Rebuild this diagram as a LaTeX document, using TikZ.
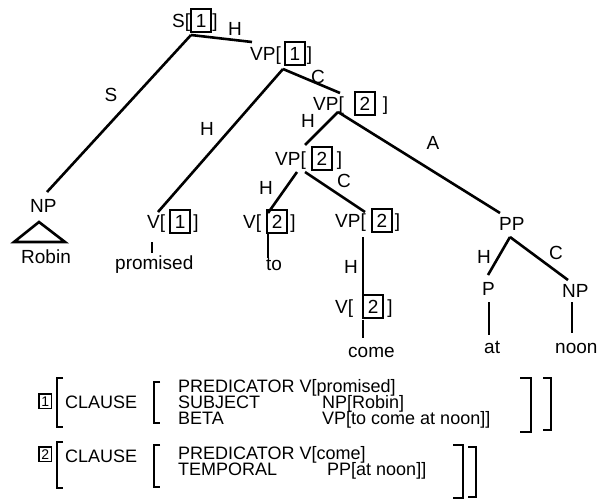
\documentclass[tikz,border=0pt]{standalone}
\usepackage{fontspec}
\setmainfont{Liberation Sans}
% boxed coindexing tags: large ones in the tree, small ones in the feature structures
\newcommand{\treetag}[1]{{\setlength{\fboxsep}{3.9pt}\setlength{\fboxrule}{1.9pt}\fbox{#1}}}
\newcommand{\avmtag}[1]{{\fontsize{14}{16}\selectfont\setlength{\fboxsep}{1.5pt}\setlength{\fboxrule}{1.7pt}\fbox{#1}}}

\begin{document}
\begin{tikzpicture}[x=1pt,y=-1pt,
  lbl/.style={anchor=base west, inner sep=0pt, font=\fontsize{19}{22}\selectfont},
  row/.style={anchor=base west, inner sep=0pt, font=\fontsize{18}{20}\selectfont},
  edgelbl/.style={inner sep=0pt, font=\fontsize{19}{22}\selectfont},
  branch/.style={line width=2.6pt},
  brk/.style={line width=2.3pt, line join=miter}]
\useasboundingbox[fill=white] (0,0) rectangle (599,501);

% ---- tree nodes ----
\node[lbl] (S)    at (172,27)  {S[\treetag{1}]};
\node[lbl] (VP1)  at (250,60)  {VP[\kern3pt\treetag{1}\kern1pt]};
\node[lbl] (VP2a) at (313,110) {VP[\kern10pt\treetag{2}\kern7pt]};
\node[lbl] (VP2b) at (275,165) {VP[\kern5pt\treetag{2}\kern4pt]};
\node[lbl] (NP)   at (30,212)  {NP};
\node[lbl] (V1)   at (147,228) {V[\kern4pt\treetag{1}\kern2pt]};
\node[lbl] (V2)   at (243,228) {V[\kern5pt\treetag{2}\kern2pt]};
\node[lbl] (VP2c) at (335,227) {VP[\kern5pt\treetag{2}\kern2pt]};
\node[lbl] (PP)   at (499,230) {PP};
\node[lbl] (V2c)  at (335,313) {V[\kern9pt\treetag{2}\kern3pt]};
\node[lbl] (P)    at (482,295) {P};
\node[lbl] (NPn)  at (562,297) {NP};

% ---- leaves ----
\node[lbl] (robin)    at (21,263)  {Robin};
\node[lbl] (promised) at (115,269) {promised};
\node[lbl] (to)       at (266,270) {to};
\node[lbl] (come)     at (348,357) {come};
\node[lbl] (at)       at (484,353) {at};
\node[lbl] (noon)     at (555,353) {noon};

% ---- branches ----
\draw[branch] ([shift={(19,8)}]S.base west) -- ([shift={(2,-18)}]VP1.base west);
\draw[branch] ([shift={(19,8)}]S.base west) -- ([shift={(17,-20)}]NP.base west);
\draw[branch] ([shift={(33,9)}]VP1.base west) -- ([shift={(11,-16)}]V1.base west);
\draw[branch] ([shift={(33,9)}]VP1.base west) -- ([shift={(27,-17)}]VP2a.base west);
\draw[branch] ([shift={(25,2)}]VP2a.base west) -- ([shift={(30,-20)}]VP2b.base west);
\draw[branch] ([shift={(25,2)}]VP2a.base west) -- ([shift={(1,-17)}]PP.base west);
\draw[branch] ([shift={(22,7)}]VP2b.base west) -- ([shift={(25,-15)}]V2.base west);
\draw[branch] ([shift={(30,7)}]VP2b.base west) -- ([shift={(30,-15)}]VP2c.base west);
\draw[branch] ([shift={(28,10)}]VP2c.base west) -- ([shift={(28,-16)}]V2c.base west);
\draw[branch] ([shift={(11,7)}]PP.base west) -- ([shift={(6,-20)}]P.base west);
\draw[branch] ([shift={(11,7)}]PP.base west) -- ([shift={(6,-17)}]NPn.base west);
% lexical attachments
\draw[branch] ([shift={(5,14)}]V1.base west) -- ([shift={(37,-16)}]promised.base west);
\draw[branch] ([shift={(25,5)}]V2.base west) -- ([shift={(2,-12)}]to.base west);
\draw[branch] ([shift={(28,7)}]V2c.base west) -- ([shift={(15,-19)}]come.base west);
\draw[branch] ([shift={(7,7)}]P.base west) -- ([shift={(5,-18)}]at.base west);
\draw[branch] ([shift={(10,5)}]NPn.base west) -- ([shift={(17,-20)}]noon.base west);
% triangle over the unanalysed NP
\draw[branch, line join=miter] ([shift={(9,10)}]NP.base west) -- ([shift={(-16,30)}]NP.base west)
  -- ([shift={(35,30)}]NP.base west) -- cycle;

% ---- branch labels ----
\node[edgelbl] (lH1) at (235,29)  {H};
\node[edgelbl] (lS)  at (111,95)  {S};
\node[edgelbl] (lH2) at (207,129) {H};
\node[edgelbl] (lC1) at (318,77)  {C};
\node[edgelbl] (lH3) at (308,121) {H};
\node[edgelbl] (lA)  at (433,143) {A};
\node[edgelbl] (lH4) at (266,188) {H};
\node[edgelbl] (lC2) at (344,181) {C};
\node[edgelbl] (lH5) at (351,267) {H};
\node[edgelbl] (lH6) at (484,257) {H};
\node[edgelbl] (lC3) at (556,253) {C};

% ---- feature structure 1 ----
\node[anchor=base west, inner sep=0pt] (tag1) at (38,406) {\avmtag{1}};
\node[row] (cl1)  at (65,408)  {CLAUSE};
\node[row] (k1a)  at (178,392) {PREDICATOR V[promised]};
\node[row] (k1b)  at (178,408) {SUBJECT};
\node[row] (k1c)  at (178,424) {BETA};
\node[row] (v1b)  at (322,408) {NP[Robin]};
\node[row] (v1c)  at (322,424) {VP[to come at noon]]};
\draw[brk] (63,378) -- (57,378) -- (57,427) -- (63,427);
\draw[brk] (160,382) -- (154,382) -- (154,423) -- (160,423);
\draw[brk] (520,378) -- (531,378) -- (531,432) -- (520,432);
\draw[brk] (543,378) -- (551,378) -- (551,430) -- (543,430);

% ---- feature structure 2 ----
\node[anchor=base west, inner sep=0pt] (tag2) at (38,459) {\avmtag{2}};
\node[row] (cl2)  at (65,462)  {CLAUSE};
\node[row] (k2a)  at (178,459) {PREDICATOR V[come]};
\node[row] (k2b)  at (178,475) {TEMPORAL};
\node[row] (v2b)  at (327,475) {PP[at noon]]};
\draw[brk] (63,442) -- (57,442) -- (57,488) -- (63,488);
\draw[brk] (160,445) -- (154,445) -- (154,487) -- (160,487);
\draw[brk] (453,445) -- (463,445) -- (463,498) -- (453,498);
\draw[brk] (468,447) -- (476,447) -- (476,497) -- (468,497);
\end{tikzpicture}
\end{document}
